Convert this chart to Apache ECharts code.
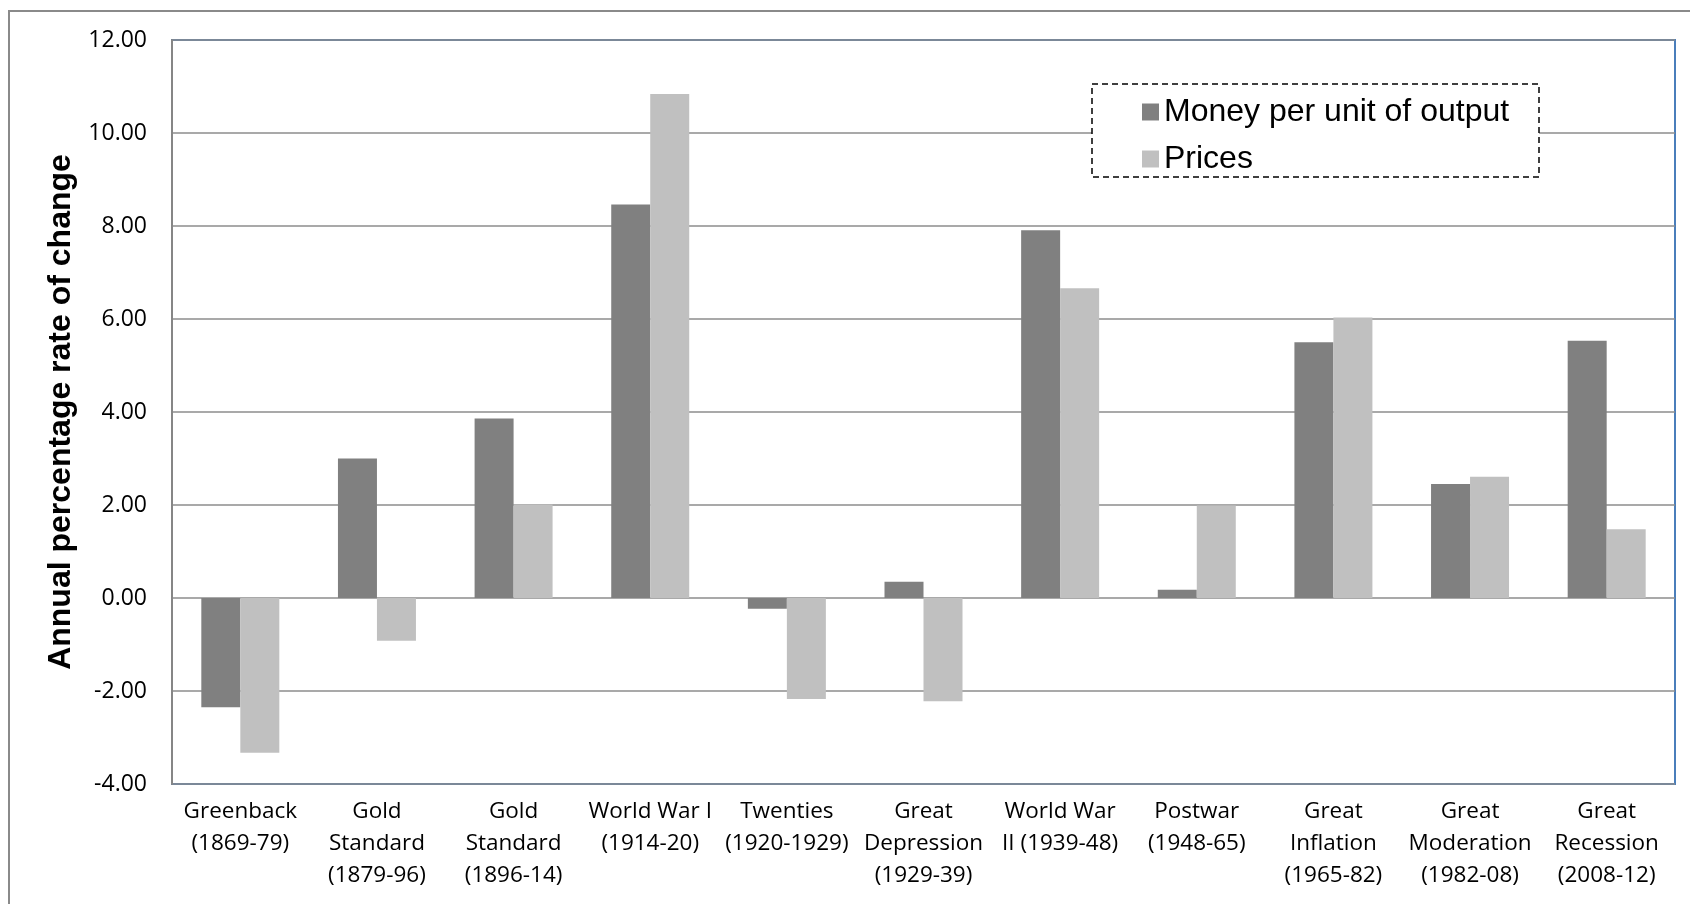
<!DOCTYPE html>
<html>
<head>
<meta charset="utf-8">
<script src="https://cdn.jsdelivr.net/npm/echarts@6/dist/echarts.min.js"></script>
<style>
html,body{margin:0;padding:0;background:#fff;}
#chart{width:1690px;height:904px;}
</style>
</head>
<body>
<div id="chart"></div>
<script>
const categories = [
  "Greenback\n(1869-79)",
  "Gold\nStandard\n(1879-96)",
  "Gold\nStandard\n(1896-14)",
  "World War I\n(1914-20)",
  "Twenties\n(1920-1929)",
  "Great\nDepression\n(1929-39)",
  "World War\nII (1939-48)",
  "Postwar\n(1948-65)",
  "Great\nInflation\n(1965-82)",
  "Great\nModeration\n(1982-08)",
  "Great\nRecession\n(2008-12)"
];
const moneyPerUnit = [-2.35, 3.00, 3.86, 8.46, -0.23, 0.35, 7.91, 0.18, 5.50, 2.45, 5.53];
const prices = [-3.33, -0.92, 2.01, 10.84, -2.17, -2.22, 6.66, 1.99, 6.03, 2.61, 1.48];
const seriesNames = ["Money per unit of output", "Prices"];
const yTicks = { min: -4, max: 12, interval: 2 };

const chart = echarts.init(document.getElementById('chart'));
chart.setOption({
  backgroundColor: '#ffffff',
  animation: false,
  graphic: [
    { type: 'rect', z: 0, shape: { x: 9, y: 11, width: 1700, height: 920 },
      style: { fill: 'none', stroke: '#8a8a8a', lineWidth: 2 } },
    { type: 'rect', z: 1, shape: { x: 1092, y: 84, width: 447, height: 93 },
      style: { fill: '#ffffff', stroke: '#000000', lineWidth: 1.5, lineDash: [6, 4] } }
  ],
  legend: {
    z: 5,
    orient: 'vertical',
    left: 1137,
    top: 91,
    itemWidth: 17,
    itemHeight: 17,
    itemGap: 15,
    icon: 'rect',
    data: seriesNames,
    textStyle: { fontFamily: 'Liberation Sans', fontSize: 32, color: '#000', lineHeight: 32, padding: [0, 0, 0, 0] }
  },
  grid: {
    left: 172, top: 40, right: 15, bottom: 120,
    show: true, borderColor: '#4A7EBB', borderWidth: 2, containLabel: false
  },
  xAxis: {
    type: 'category',
    data: categories,
    axisLine: { show: false },
    axisTick: { show: false },
    axisLabel: {
      interval: 0, margin: 12,
      fontFamily: 'Open Sans', fontSize: 22.5, color: '#000', lineHeight: 32
    }
  },
  yAxis: {
    type: 'value',
    min: yTicks.min, max: yTicks.max, interval: yTicks.interval,
    name: 'Annual percentage rate of change',
    nameLocation: 'middle',
    nameRotate: 90,
    nameGap: 94,
    nameTextStyle: { fontFamily: 'Liberation Sans', fontWeight: 'bold', fontSize: 32, color: '#000' },
    axisLine: { show: true, lineStyle: { color: '#868686', width: 2 } },
    axisTick: { show: false },
    axisLabel: {
      margin: 25, fontFamily: 'Open Sans', fontSize: 23, color: '#000',
      formatter: v => v.toFixed(2)
    },
    splitLine: { show: true, lineStyle: { color: '#8c8c8c', width: 1.5 } }
  },
  series: [
    { name: seriesNames[0], type: 'bar', data: moneyPerUnit, barWidth: 39, barGap: '0%',
      itemStyle: { color: '#808080' } },
    { name: seriesNames[1], type: 'bar', data: prices, barWidth: 39, barGap: '0%',
      itemStyle: { color: '#C0C0C0' } }
  ]
});
</script>
</body>
</html>
